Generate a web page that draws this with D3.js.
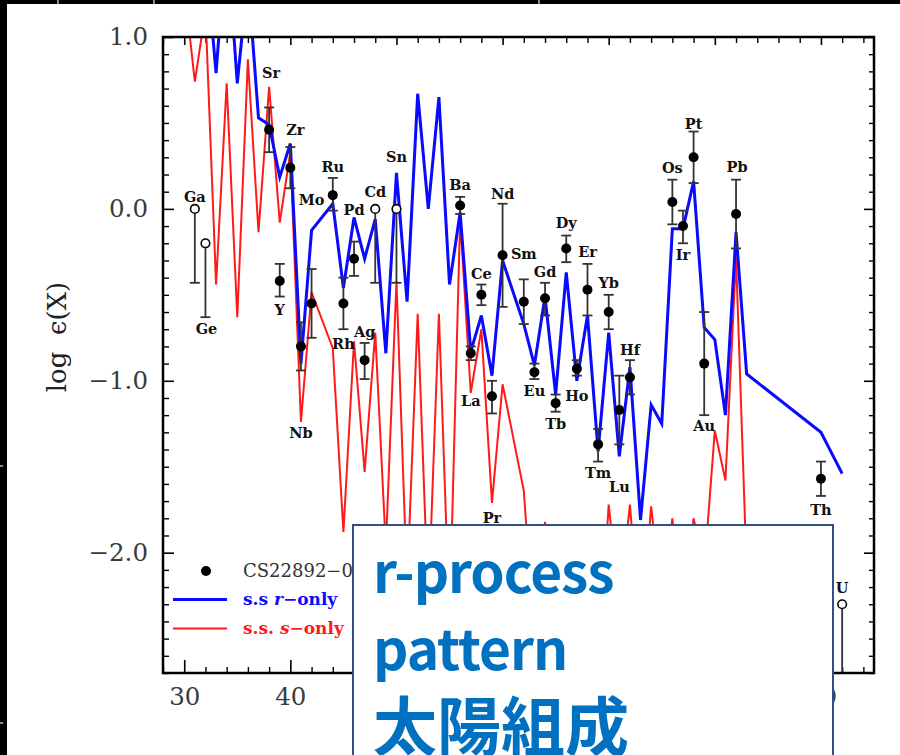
<!DOCTYPE html>
<html>
<head>
<meta charset="utf-8">
<script src="https://cdn.jsdelivr.net/npm/d3@7"></script>
<style>
  html, body { margin: 0; padding: 0; background: #000; }
  svg { display: block; }
</style>
</head>
<body>
<svg width="900" height="755"></svg>
<script>
// ---- data ----
const elements = ["Ga","Ge","Sr","Y","Zr","Nb","Mo","Ru","Rh","Pd","Ag","Cd","Sn",
  "Ba","La","Ce","Pr","Nd","Sm","Eu","Gd","Tb","Dy","Ho","Er","Tm","Yb","Lu","Hf",
  "Os","Ir","Pt","Au","Pb","Th","U"];
const atomicNumber = [31,32,38,39,40,41,42,44,45,46,47,48,50,
  56,57,58,59,60,62,63,64,65,66,67,68,69,70,71,72,
  76,77,78,79,82,90,92];
const logEps = [0.00,-0.20,0.46,-0.42,0.24,-0.80,-0.55,0.08,-0.55,-0.29,-0.88,0.00,0.00,
  0.02,-0.84,-0.50,-1.09,-0.27,-0.54,-0.95,-0.52,-1.13,-0.23,-0.93,-0.47,-1.37,-0.60,-1.17,-0.98,
  0.04,-0.10,0.30,-0.90,-0.03,-1.57,-2.30];
const errLow = [-0.43,-0.63,0.33,-0.51,0.12,-0.94,-0.75,-0.01,-0.70,-0.39,-0.99,-0.43,-0.43,
  -0.03,-0.88,-0.56,-1.19,-0.57,-0.67,-0.99,-0.62,-1.18,-0.31,-0.97,-0.62,-1.47,-0.70,-1.37,-1.08,
  -0.09,-0.20,0.15,-1.20,-0.23,-1.67,-2.70];
const errHigh = [0.00,-0.20,0.59,-0.32,0.36,-0.66,-0.35,0.18,-0.40,-0.19,-0.78,0.00,0.00,
  0.07,-0.80,-0.44,-1.00,0.03,-0.41,-0.90,-0.43,-1.08,-0.155,-0.88,-0.32,-1.28,-0.50,-0.97,-0.88,
  0.17,-0.01,0.45,-0.60,0.17,-1.47,-2.30];
const upperLimits = ["Ga","Ge","Cd","Sn","U"];

// solar-system r-only pattern (blue)
const rOnlyZ = [32,33,34,35,36,37,38,39,40,41,42,44,45,46,47,48,49,50,51,52,53,54,55,56,57,58,59,60,
  62,63,64,65,66,67,68,69,70,71,72,73,74,75,76,77,78,79,80,81,82,83,90,92];
const rOnlyLogEps = [1.5,0.79,1.6,0.73,1.35,0.53,0.49,0.185,0.38,-0.90,-0.125,0.03,-0.46,-0.05,-0.29,-0.06,
  -0.84,0.21,-0.54,0.67,0.00,0.65,-0.44,-0.02,-0.83,-0.62,-0.97,-0.30,
  -0.67,-0.91,-0.51,-1.08,-0.37,-1.00,-0.62,-1.41,-0.72,-1.44,-0.92,-1.81,-1.14,-1.25,-0.115,-0.115,
  0.16,-0.69,-0.76,-1.20,-0.135,-0.96,-1.30,-1.54];

// solar-system s-only pattern (red)
const sOnlyZ = [30,31,32,33,34,35,36,37,38,39,40,41,42,44,45,46,47,48,49,50,51,52,53,54,55,56,57,58,59,60,
  62,63,64,65,66,67,68,69,70,71,72,73,74,75,76,77,78,79,80,81,82,83];
const sOnlyLogEps = [1.3,0.74,1.15,-0.44,0.73,-0.63,0.87,-0.135,0.71,-0.08,0.33,-1.24,-0.485,-0.81,-1.88,
  -0.77,-1.53,-0.72,-1.97,-0.42,-2.2,-0.61,-2.3,-0.61,-2.4,-0.05,-1.07,-0.70,-1.71,-1.02,
  -1.64,-2.5,-1.82,-2.4,-1.95,-2.6,-1.95,-2.7,-1.72,-2.3,-1.72,-2.5,-1.73,-2.3,-1.80,-2.4,-1.80,
  -2.1,-1.29,-1.58,-0.28,-2.1];

const xTicks = [30,40,50,60,70,80,90];
const yTicks = [-2,-1,0,1];
const legendLabels = ["CS22892\u2212052", "s.s r\u2212only", "s.s. s\u2212only"];
const captionLines = ["r-process", "pattern", "太陽組成"];

// where each element name sits relative to its point (px)
const labelOffsets = [[0,-12],[1,86],[2,-57],[0,29],[5,-38],[0,86],[0,-104],[0,-28],[0,40],[0,-49],
  [0,-28],[0,-17],[0,-52],[0,-21],[0,47],[0,-21],[0,122],[0,-62],[0,-48],[0,19],[0,-26],[0,21],
  [0,-26],[0,27],[0,-38],[0,28],[0,-29],[0,77],[0,-28],[0,-34],[0,29],[0,-34],[0,62],[1,-47],[0,31],[0,-16]];

// ---- drawing ----
const svg = d3.select("svg");
const plotLeft = 163, plotRight = 874, plotTop = 37, plotBottom = 673;

// pasted slide background
svg.append("rect").attr("x", 7).attr("y", 4).attr("width", 893).attr("height", 751).attr("fill", "#fff");
[[57,0,2,4],[153,0,2,4],[538,0,2,4],[0,465,3,2],[0,722,3,2]].forEach(r =>
  svg.append("rect").attr("x", r[0]).attr("y", r[1]).attr("width", r[2]).attr("height", r[3]).attr("fill", "#888"));

const x = d3.scaleLinear().domain([28, 95]).range([plotLeft, plotRight]);
const y = d3.scaleLinear().domain([-2.7, 1.0]).range([plotBottom, plotTop]);

const tickFont = g => g.selectAll("text")
  .style("font-family", "'DejaVu Serif'").style("font-size", "24.5px").attr("fill", "#3a3a3a");
const tickLines = (g, w) => { g.select(".domain").remove(); g.selectAll("line").attr("stroke", "#000").attr("stroke-width", w); };

const yMinor = d3.range(-27, 11).map(d => d / 10).filter(d => Math.abs(d - Math.round(d)) > 1e-6);
const xMinor = d3.range(28, 95, 2).filter(d => d % 10 !== 0);

svg.append("g").attr("transform", `translate(${plotLeft},0)`)
  .call(d3.axisLeft(y).tickValues(yTicks).tickSize(-11).tickPadding(15).tickFormat(d3.format(".1f")))
  .call(g => tickLines(g, 1.6)).call(tickFont);
svg.append("g").attr("transform", `translate(${plotLeft},0)`)
  .call(d3.axisLeft(y).tickValues(yMinor).tickSize(-6).tickFormat(""))
  .call(g => tickLines(g, 1.4));
svg.append("g").attr("transform", `translate(${plotRight},0)`)
  .call(d3.axisRight(y).tickValues(yTicks).tickSize(-10).tickFormat(""))
  .call(g => tickLines(g, 1.6));
svg.append("g").attr("transform", `translate(${plotRight},0)`)
  .call(d3.axisRight(y).tickValues(yMinor).tickSize(-5).tickFormat(""))
  .call(g => tickLines(g, 1.4));

svg.append("g").attr("transform", `translate(0,${plotBottom})`)
  .call(d3.axisBottom(x).tickValues(xTicks).tickSize(-13).tickPadding(15).tickFormat(d3.format("d")))
  .call(g => tickLines(g, 1.6)).call(tickFont);
svg.append("g").attr("transform", `translate(0,${plotBottom})`)
  .call(d3.axisBottom(x).tickValues(xMinor).tickSize(-6).tickFormat(""))
  .call(g => tickLines(g, 1.4));
svg.append("g").attr("transform", `translate(0,${plotTop})`)
  .call(d3.axisTop(x).tickValues(xTicks).tickSize(-8).tickFormat(""))
  .call(g => tickLines(g, 1.6));
svg.append("g").attr("transform", `translate(0,${plotTop})`)
  .call(d3.axisTop(x).tickValues(xMinor).tickSize(-6).tickFormat(""))
  .call(g => tickLines(g, 1.4));

// y axis title
svg.append("text")
  .attr("transform", "translate(66,337) rotate(-90)")
  .attr("text-anchor", "middle")
  .style("font-family", "'DejaVu Serif'").style("font-size", "26px").style("white-space", "pre")
  .attr("fill", "#222")
  .text("log  \u03f5(X)");

// solar patterns, clipped to the frame
svg.append("clipPath").attr("id", "plot-clip")
  .append("rect").attr("x", plotLeft).attr("y", plotTop)
  .attr("width", plotRight - plotLeft).attr("height", plotBottom - plotTop);

const line = d3.line().x(d => x(d[0])).y(d => y(d[1]));
const lines = svg.append("g").attr("clip-path", "url(#plot-clip)");
lines.append("path").datum(d3.zip(sOnlyZ, sOnlyLogEps))
  .attr("d", line).attr("fill", "none").attr("stroke", "#ff1a1a").attr("stroke-width", 2)
  .attr("stroke-linejoin", "miter");
lines.append("path").datum(d3.zip(rOnlyZ, rOnlyLogEps))
  .attr("d", line).attr("fill", "none").attr("stroke", "#0a0aff").attr("stroke-width", 3)
  .attr("stroke-linejoin", "miter");

// star abundances
const stars = elements.map((el, i) => ({
  el, z: atomicNumber[i], v: logEps[i], lo: errLow[i], hi: errHigh[i],
  limit: upperLimits.includes(el), off: labelOffsets[i]
}));

const pts = svg.append("g").attr("clip-path", "url(#plot-clip)");
const capHalf = 5;
stars.forEach(d => {
  const g = pts.append("g");
  const cx = x(d.z);
  g.append("line").attr("x1", cx).attr("x2", cx).attr("y1", y(d.hi)).attr("y2", y(d.lo))
    .attr("stroke", "#333").attr("stroke-width", 1.8);
  const caps = d.limit ? [d.lo] : [d.lo, d.hi];
  caps.forEach(c => g.append("line").attr("x1", cx - capHalf).attr("x2", cx + capHalf)
    .attr("y1", y(c)).attr("y2", y(c)).attr("stroke", "#333").attr("stroke-width", 1.8));
  g.append("circle").attr("cx", cx).attr("cy", y(d.v))
    .attr("r", d.limit ? 4.3 : 5)
    .attr("fill", d.limit ? "#fff" : "#000")
    .attr("stroke", "#000").attr("stroke-width", d.limit ? 1.6 : 0);
});

svg.append("g").selectAll("text").data(stars).join("text")
  .attr("x", d => x(d.z) + d.off[0])
  .attr("y", d => y(d.v) + d.off[1])
  .attr("dy", "0.36em")
  .attr("text-anchor", "middle")
  .style("font-family", "'DejaVu Serif'").style("font-size", "14.5px").style("font-weight", "bold")
  .attr("fill", "#111")
  .text(d => d.el);

// frame
svg.append("rect").attr("x", plotLeft).attr("y", plotTop)
  .attr("width", plotRight - plotLeft).attr("height", plotBottom - plotTop)
  .attr("fill", "none").attr("stroke", "#000").attr("stroke-width", 2.5);

// legend
const leg = svg.append("g").style("font-family", "'DejaVu Serif'");
leg.append("circle").attr("cx", 206).attr("cy", 571).attr("r", 5).attr("fill", "#000");
leg.append("text").attr("x", 243).attr("y", 577).style("font-size", "18px").attr("fill", "#333")
  .text(legendLabels[0]);
leg.append("line").attr("x1", 173).attr("x2", 227).attr("y1", 599.5).attr("y2", 599.5)
  .attr("stroke", "#0a0aff").attr("stroke-width", 3);
const t1 = leg.append("text").attr("x", 243).attr("y", 605).style("font-size", "17px")
  .style("font-weight", "bold").attr("fill", "#0a0aff");
t1.append("tspan").text("s.s ");
t1.append("tspan").style("font-style", "italic").text("r");
t1.append("tspan").text("\u2212only");
leg.append("line").attr("x1", 173).attr("x2", 227).attr("y1", 628.5).attr("y2", 628.5)
  .attr("stroke", "#ff1a1a").attr("stroke-width", 2);
const t2 = leg.append("text").attr("x", 243).attr("y", 634).style("font-size", "17px")
  .style("font-weight", "bold").attr("fill", "#ff1a1a");
t2.append("tspan").text("s.s. ");
t2.append("tspan").style("font-style", "italic").text("s");
t2.append("tspan").text("\u2212only");

// overlaid caption box
svg.append("rect").attr("x", 353).attr("y", 525).attr("width", 480).attr("height", 260)
  .attr("fill", "#fff").attr("stroke", "#2f4f86").attr("stroke-width", 2);
const caption = svg.append("g").attr("fill", "#0070c0")
  .style("font-family", "'Noto Sans CJK JP'").style("font-weight", "bold");
caption.append("text").attr("x", 373).attr("y", 593).style("font-size", "55px")
  .style("letter-spacing", "-1px").text(captionLines[0]);
caption.append("text").attr("x", 373).attr("y", 670).style("font-size", "55px")
  .style("letter-spacing", "-1px").text(captionLines[1]);
caption.append("text").attr("x", 373).attr("y", 750).style("font-size", "64px").text(captionLines[2]);
</script>
</body>
</html>
